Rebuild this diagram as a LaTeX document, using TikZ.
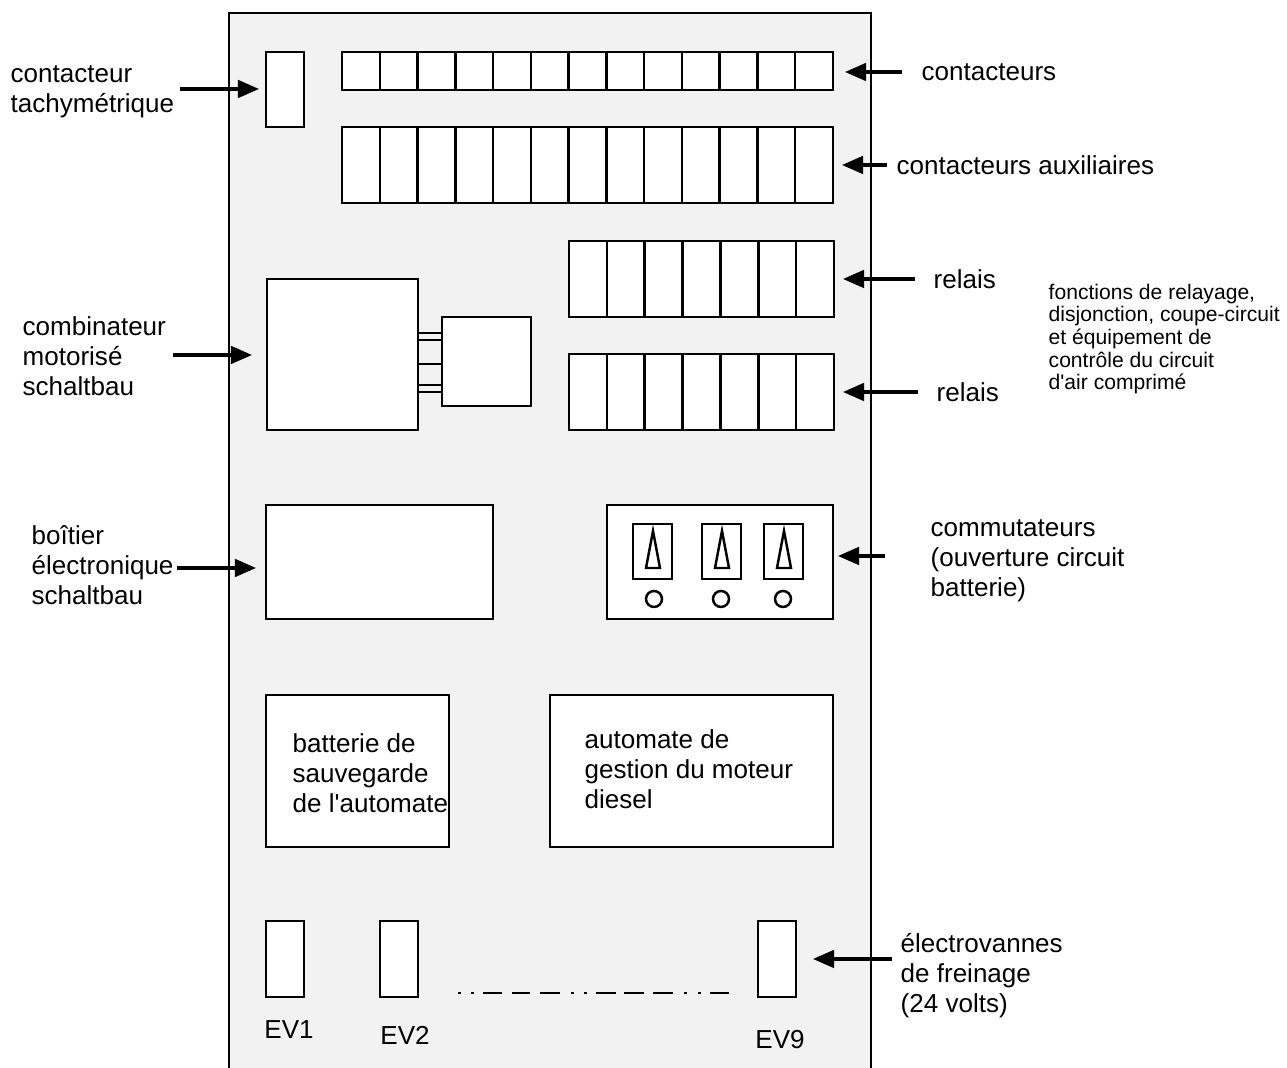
\documentclass[tikz,border=0pt]{standalone}
\usepackage{fontspec}
\setmainfont{Liberation Sans}
\newfontfamily\arialf{Liberation Sans}
\usetikzlibrary{arrows.meta,fit,calc}
\definecolor{panelgray}{HTML}{F2F2F2}
\tikzset{
  ln/.style={line width=0.7pt, draw=black},
  box/.style={draw=black, fill=white, line width=0.7pt, inner sep=0pt, outer sep=0pt},
  arr/.style={line width=0.9pt, -{Triangle[length=6pt,width=5pt]}},
  lbl/.style={font=\arialf\fontsize{7.4}{8.5}\selectfont, align=left, anchor=west, inner sep=0pt},
  small/.style={font=\arialf\fontsize{6}{6.45}\selectfont, align=left, anchor=west, inner sep=0pt},
  evlbl/.style={font=\arialf\fontsize{7.4}{8.5}\selectfont, inner sep=0pt}
}
\begin{document}
\begin{tikzpicture}[x=0.01cm,y=-0.01cm]
\useasboundingbox (0,0) rectangle (1287,1068);
% panel
\fill[panelgray] (229,13) rectangle (871,1068);
\draw[ln] (229,1068) -- (229,13) -- (871,13) -- (871,1068);

% contacteur tachymetrique
\node[box, fit={(266,52) (304,127)}] (tachy) {};
% contacteurs row
\node[box, fit={(342,52) (833,90)}] (cont) {};
\foreach \i in {1,...,12}
  \draw[ln] ($(cont.north west)!\i/13!(cont.north east)$) -- ($(cont.south west)!\i/13!(cont.south east)$);
% contacteurs auxiliaires
\node[box, fit={(342,127) (833,203)}] (aux) {};
\foreach \i in {1,...,12}
  \draw[ln] ($(aux.north west)!\i/13!(aux.north east)$) -- ($(aux.south west)!\i/13!(aux.south east)$);
% relais
\node[box, fit={(569,241) (834,317)}] (relA) {};
\foreach \i in {1,...,6}
  \draw[ln] ($(relA.north west)!\i/7!(relA.north east)$) -- ($(relA.south west)!\i/7!(relA.south east)$);
\node[box, fit={(569,354) (834,430)}] (relB) {};
\foreach \i in {1,...,6}
  \draw[ln] ($(relB.north west)!\i/7!(relB.north east)$) -- ($(relB.south west)!\i/7!(relB.south east)$);

% combinateur
\node[box, fit={(267,279) (418,430)}] (comb) {};
\node[box, fit={(442,317) (531,406)}] (combB) {};
\foreach \yy in {333,340,364,385,392}
  \draw[ln] (418,\yy) -- (442,\yy);

% boitier electronique
\node[box, fit={(266,505) (493,619)}] (boit) {};

% commutateurs
\node[box, fit={(607,505) (833,619)}] (comm) {};
\foreach \xx/\cx in {633/654,702/721,764/783} {
  \draw[ln] (\xx,524) rectangle ++(39,55);
  \draw[ln] (\xx+20,531) -- (\xx+13,568) -- (\xx+27,568) -- cycle;
  \draw[ln] (\cx,599) circle[radius=8];
}

% batterie & automate
\node[box, fit={(266,695) (449,847)}] (batt) {};
\node[box, fit={(550,695) (833,847)}] (auto) {};
\node[lbl] (tBatt) at (292,773) {batterie de\\sauvegarde\\de l'automate};
\node[lbl] (tAuto) at (584,769) {automate de\\gestion du moteur\\diesel};

% electrovannes
\node[box, fit={(266,921) (304,997)}] (ev1) {};
\node[box, fit={(380,921) (418,997)}] (ev2) {};
\node[box, fit={(758,921) (796,997)}] (ev9) {};
\node[evlbl] (tEV1) at (289,1030) {EV1};
\node[evlbl] (tEV2) at (405,1035) {EV2};
\node[evlbl] (tEV9) at (780,1040) {EV9};
% dotted-dashed line
\foreach \a/\b in {458/461,471/474,483/502,512/530,540/560,571/574,584/587,596/616,624/644,653/673,684/687,698/701,710/729}
  \draw[line width=0.8pt] (\a,993) -- (\b,993);

% labels
\node[lbl] (lTachy) at (10,92) {contacteur\\tachymétrique};
\node[lbl] (lCont) at (921,72) {contacteurs};
\node[lbl] (lAux) at (896,165) {contacteurs auxiliaires};
\node[lbl] (lRelA) at (933,279) {relais};
\node[lbl] (lRelB) at (936,392) {relais};
\node[small] (lFonc) at (1048,339) {fonctions de relayage,\\disjonction, coupe-circuit\\et équipement de\\contrôle du circuit\\d'air comprimé};
\node[lbl] (lComb) at (22,356) {combinateur\\motorisé\\schaltbau};
\node[lbl] (lBoit) at (31,565) {boîtier\\électronique\\schaltbau};
\node[lbl] (lComm) at (930,561) {commutateurs\\(ouverture circuit\\batterie)};
\node[lbl] (lEV) at (900,976) {électrovannes\\de freinage\\(24 volts)};

% arrow tails
\coordinate (aTachy) at (180,89);
\coordinate (aCont) at (902,72);
\coordinate (aAux) at (887,165);
\coordinate (aRelA) at (915,279);
\coordinate (aRelB) at (918,392);
\coordinate (aComb) at (173,355);
\coordinate (aBoit) at (177,568);
\coordinate (aComm) at (885,556);
\coordinate (aEV) at (892,959);

\draw[arr, shorten >=0.07cm] (aTachy) -- (aTachy -| tachy.west);
\draw[arr, shorten >=0.12cm] (aCont) -- (aCont -| cont.east);
\draw[arr, shorten >=0.09cm] (aAux) -- (aAux -| aux.east);
\draw[arr, shorten >=0.09cm] (aRelA) -- (aRelA -| relA.east);
\draw[arr, shorten >=0.09cm] (aRelB) -- (aRelB -| relB.east);
\draw[arr, shorten >=0.15cm] (aComb) -- (aComb -| comb.west);
\draw[arr, shorten >=0.10cm] (aBoit) -- (aBoit -| boit.west);
\draw[arr, shorten >=0.05cm] (aComm) -- (aComm -| comm.east);
\draw[arr, shorten >=0.17cm] (aEV) -- (aEV -| ev9.east);
\end{tikzpicture}
\end{document}
